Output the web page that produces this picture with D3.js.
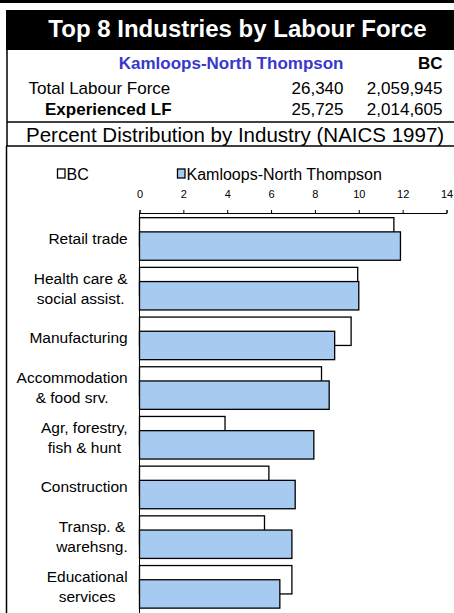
<!DOCTYPE html>
<html>
<head>
<meta charset="utf-8">
<script src="https://cdn.jsdelivr.net/npm/d3@7"></script>
<style>
  body { margin: 0; background: #fff; }
  svg { display: block; font-family: 'Liberation Sans', Arial, sans-serif; }
</style>
</head>
<body>
<script>
  const width = 454
  const height = 613

  const categories = [
    ['Retail trade'],
    ['Health care &', 'social assist.'],
    ['Manufacturing'],
    ['Accommodation', '& food srv.'],
    ['Agr, forestry,', 'fish & hunt'],
    ['Construction'],
    ['Transp. &', 'warehsng.'],
    ['Educational', 'services']
  ]
  const bcValues = [11.6, 9.95, 9.65, 8.3, 3.9, 5.9, 5.7, 6.95]
  const kntValues = [11.9, 10.0, 8.9, 8.65, 7.95, 7.1, 6.95, 6.4]
  const xTicks = [0, 2, 4, 6, 8, 10, 12, 14]
  const seriesNames = ['BC', 'Kamloops-North Thompson']

  const headerRows = [
    { label: 'Total Labour Force', knt: '26,340', bc: '2,059,945', bold: false },
    { label: 'Experienced LF', knt: '25,725', bc: '2,014,605', bold: true }
  ]

  const blue = '#a6caf0'
  const svg = d3.select('body')
    .append('svg')
    .attr('width', width)
    .attr('height', height)

  // header block
  svg.append('rect').attr('x', 0).attr('y', 0).attr('width', width).attr('height', 3).attr('fill', '#000')
  svg.append('rect').attr('x', 6).attr('y', 10).attr('width', width - 6).attr('height', 40).attr('fill', '#000')
  svg.append('text')
    .attr('x', 237.5)
    .attr('y', 37)
    .attr('text-anchor', 'middle')
    .attr('font-size', '24px')
    .attr('font-weight', 'bold')
    .attr('fill', '#fff')
    .text('Top 8 Industries by Labour Force')

  svg.append('text')
    .attr('x', 343.5).attr('y', 68.5)
    .attr('text-anchor', 'end')
    .attr('font-size', '17px').attr('font-weight', 'bold')
    .attr('fill', '#3838cc')
    .text(seriesNames[1])
  svg.append('text')
    .attr('x', 442.5).attr('y', 68.5)
    .attr('text-anchor', 'end')
    .attr('font-size', '17px').attr('font-weight', 'bold')
    .text(seriesNames[0])

  headerRows.forEach(function (row, i) {
    const y = 93.5 + i * 21.7
    svg.append('text')
      .attr('x', row.bold ? 45 : 28.5).attr('y', y)
      .attr('font-size', '17px')
      .attr('font-weight', row.bold ? 'bold' : 'normal')
      .text(row.label)
    svg.append('text')
      .attr('x', 343.5).attr('y', y)
      .attr('text-anchor', 'end').attr('font-size', '17px')
      .text(row.knt)
    svg.append('text')
      .attr('x', 442.5).attr('y', y)
      .attr('text-anchor', 'end').attr('font-size', '17px')
      .text(row.bc)
  })

  svg.append('text')
    .attr('x', 26).attr('y', 141.5)
    .attr('font-size', '20.5px')
    .text('Percent Distribution by Industry (NAICS 1997)')

  // box lines
  const lines = [
    [7, 50, 7, 146],
    [7, 122, width, 122],
    [6, 146, width, 146],
    [6.5, 146, 6.5, height]
  ]
  svg.selectAll('line.box')
    .data(lines)
    .enter()
    .append('line')
    .attr('class', 'box')
    .attr('x1', d => d[0]).attr('y1', d => d[1])
    .attr('x2', d => d[2]).attr('y2', d => d[3])
    .attr('stroke', '#000')
    .attr('stroke-width', 1.5)

  // scales
  const x = d3.scaleLinear().domain([0, 14]).range([139.5, 446.5])
  const y = d3.scaleBand()
    .domain(d3.range(categories.length))
    .range([212.7, 613.1])
    .paddingInner(0.143)
    .paddingOuter(0.1)
  const barH = y.bandwidth() / 1.5

  // top axis
  const axis = svg.append('g')
    .attr('transform', 'translate(0,213)')
    .call(d3.axisTop(x).tickValues(xTicks).tickSize(3).tickPadding(12).tickFormat(d3.format('d')))
  axis.select('.domain').attr('stroke', '#000')
  axis.selectAll('.tick line').attr('stroke', '#000')
  axis.selectAll('.tick text')
    .attr('font-size', '11px')
    .attr('font-family', "'Liberation Sans', Arial, sans-serif")
    .attr('fill', '#000')

  // category axis line
  svg.append('line')
    .attr('x1', x(0)).attr('x2', x(0))
    .attr('y1', 213).attr('y2', height)
    .attr('stroke', '#000')

  // bars
  svg.selectAll('rect.bc')
    .data(bcValues)
    .enter()
    .append('rect')
    .attr('class', 'bc')
    .attr('x', x(0))
    .attr('y', (d, i) => y(i))
    .attr('width', d => x(d) - x(0))
    .attr('height', barH)
    .attr('fill', '#fff')
    .attr('stroke', '#000')
    .attr('stroke-width', 1.3)

  svg.selectAll('rect.knt')
    .data(kntValues)
    .enter()
    .append('rect')
    .attr('class', 'knt')
    .attr('x', x(0))
    .attr('y', (d, i) => y(i) + barH / 2)
    .attr('width', d => x(d) - x(0))
    .attr('height', barH)
    .attr('fill', blue)
    .attr('stroke', '#000')
    .attr('stroke-width', 1.3)

  // category labels, block right aligned, lines centred to each other
  const labelRight = 127.7
  categories.forEach(function (lines, i) {
    const mid = y(i) + y.bandwidth() / 2
    const t = svg.append('text')
      .attr('font-size', '15.5px')
      .attr('text-anchor', 'middle')
    lines.forEach(function (line, j) {
      t.append('tspan')
        .attr('y', lines.length === 1 ? mid + 5 : mid - 5 + j * 20)
        .text(line)
    })
    let maxW = 0
    t.selectAll('tspan').each(function () {
      maxW = Math.max(maxW, this.getComputedTextLength())
    })
    t.selectAll('tspan').attr('x', labelRight - maxW / 2)
  })

  // legend
  const legend = [
    { name: seriesNames[0], fill: '#fff', x: 57.5 },
    { name: seriesNames[1], fill: blue, x: 177.5 }
  ]
  legend.forEach(function (d) {
    svg.append('rect')
      .attr('x', d.x).attr('y', 169)
      .attr('width', 7.5).attr('height', 9)
      .attr('fill', d.fill)
      .attr('stroke', '#000')
      .attr('stroke-width', 1.3)
    svg.append('text')
      .attr('x', d.x + 9).attr('y', 179.5)
      .attr('font-size', '16px')
      .text(d.name)
  })
</script>
</body>
</html>
